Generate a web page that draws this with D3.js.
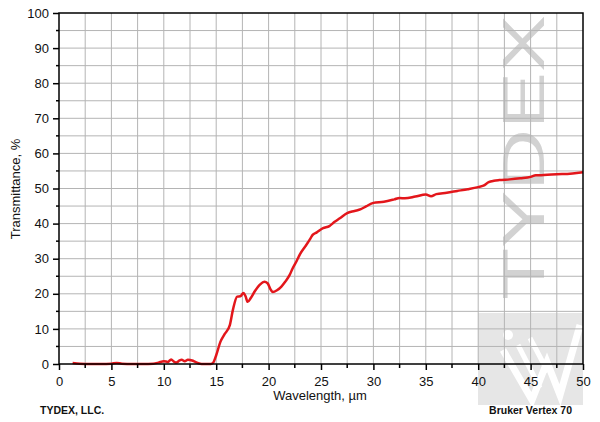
<!DOCTYPE html>
<html><head><meta charset="utf-8">
<script src="https://cdn.jsdelivr.net/npm/d3@7/dist/d3.min.js"></script>
<style>body{margin:0;background:#fff}svg{display:block;font-family:"Liberation Sans",Arial,sans-serif}</style>
</head><body><svg id="c" width="600" height="422"></svg>
<script>
const wavelength = [1.3,2,3,4,5,5.5,6,7,8,9,9.5,10,10.4,10.7,11,11.2,11.5,11.7,12,12.3,12.7,13,13.3,13.6,14,14.5,14.7,15,15.4,15.8,16.3,16.6,17,17.3,17.6,17.8,18,18.3,18.7,19.2,19.6,19.9,20.2,20.4,20.8,21.2,21.6,22,22.3,22.7,23,23.5,24,24.2,24.6,25.2,25.8,26.3,26.8,27.5,28.2,28.8,29.3,30,31,32,32.5,33,34,35,35.5,36,37,38,39,40,40.5,41,41.5,42,43,44,45,45.5,46,47,48,49,50];
const transmittance = [0.3,0.1,0,0,0.1,0.3,0.1,0,0,0.1,0.4,0.8,0.6,1.3,0.6,0.4,1.0,1.2,0.8,1.2,1.0,0.6,0.2,0,0,0,0.3,2.5,6.3,8.5,11.1,15.5,19.2,19.3,20.2,19.3,17.7,18.8,20.8,22.7,23.4,23.0,21.2,20.5,21.0,22.0,23.5,25.3,27.3,29.5,31.3,33.5,35.8,36.8,37.5,38.7,39.3,40.5,41.5,43.0,43.6,44.1,44.9,45.9,46.2,46.9,47.3,47.2,47.7,48.3,47.8,48.4,48.8,49.3,49.8,50.4,50.8,51.8,52.2,52.4,52.6,52.9,53.3,53.8,53.8,54.0,54.1,54.3,54.6];
const xTicks = [0,5,10,15,20,25,30,35,40,45,50];
const yTicks = [0,10,20,30,40,50,60,70,80,90,100];
const xMinor = d3.range(0,50.01,2.5);
const yMinor = d3.range(0,100.01,5);

const svg = d3.select("#c");
const L=59,R=583,T=13,B=364;
const x = d3.scaleLinear().domain([0,50]).range([L,R]);
const y = d3.scaleLinear().domain([0,100]).range([B,T]);

// watermark
const wm = svg.append("g");
wm.append("rect").attr("x",478).attr("y",313).attr("width",105).attr("height",92).attr("fill","#e6e6e6");
const wpath = d3.line();
wm.append("path").attr("d",wpath([[503,350],[532,400],[547,362],[560,395],[580,325]]))
  .attr("fill","none").attr("stroke","#fff").attr("stroke-width",7).attr("stroke-linejoin","miter");
wm.append("path").attr("d",wpath([[518,345],[540,388]])).attr("fill","none").attr("stroke","#fff").attr("stroke-width",5);
wm.append("path").attr("d",wpath([[530,338],[548,372]])).attr("fill","none").attr("stroke","#fff").attr("stroke-width",5);
wm.append("circle").attr("cx",508).attr("cy",335).attr("r",5).attr("fill","#fff");
wm.append("text").attr("transform","translate(544,300) rotate(-90)")
  .attr("font-size",60).attr("fill","#d2d2d2").attr("textLength",285).attr("lengthAdjust","spacingAndGlyphs")
  .text("TYDEX");

// grid
const g = svg.append("g");
g.selectAll(".vx").data(xMinor.filter(d=>d>0&&d<50)).join("line")
  .attr("x1",d=>x(d)).attr("x2",d=>x(d)).attr("y1",T).attr("y2",B)
  .attr("stroke","#b4b4b4").attr("stroke-width",1);
g.selectAll(".hy").data(yMinor.filter(d=>d>0&&d<100)).join("line")
  .attr("y1",d=>y(d)).attr("y2",d=>y(d)).attr("x1",L).attr("x2",R)
  .attr("stroke","#b4b4b4").attr("stroke-width",1);

// curve
svg.append("path").datum(wavelength.map((w,i)=>[w,transmittance[i]]))
  .attr("d",d3.line().x(d=>x(d[0])).y(d=>y(d[1])).curve(d3.curveMonotoneX))
  .attr("fill","none").attr("stroke","#e3161b").attr("stroke-width",2.5).attr("stroke-linejoin","round");

// frame
svg.append("rect").attr("x",L).attr("y",T).attr("width",R-L).attr("height",B-T)
  .attr("fill","none").attr("stroke","#000").attr("stroke-width",1.5);

// axes
const xAxis = d3.axisBottom(x).tickValues(xTicks).tickSize(6).tickPadding(7).tickFormat(d3.format("d"));
const ax = svg.append("g").attr("transform",`translate(0,${B})`).call(xAxis);
ax.select(".domain").remove();
ax.selectAll("line").attr("stroke-width",1.5);
ax.selectAll("text").attr("font-size",13).attr("fill","#111").attr("font-family","Liberation Sans, Arial");
svg.append("g").selectAll("line").data(xMinor.filter(d=>d%5!==0)).join("line")
  .attr("x1",d=>x(d)).attr("x2",d=>x(d)).attr("y1",B).attr("y2",B+4).attr("stroke","#000").attr("stroke-width",1.5);

const yAxis = d3.axisLeft(y).tickValues(yTicks).tickSize(6).tickPadding(4).tickFormat(d3.format("d"));
const ay = svg.append("g").attr("transform",`translate(${L},0)`).call(yAxis);
ay.select(".domain").remove();
ay.selectAll("line").attr("stroke-width",1.5);
ay.selectAll("text").attr("font-size",13).attr("fill","#111").attr("font-family","Liberation Sans, Arial");
svg.append("g").selectAll("line").data(yMinor.filter(d=>d%10!==0)).join("line")
  .attr("y1",d=>y(d)).attr("y2",d=>y(d)).attr("x1",L-3).attr("x2",L).attr("stroke","#000").attr("stroke-width",1.5);

// titles
svg.append("text").attr("x",320).attr("y",400).attr("text-anchor","middle").attr("font-size",13).attr("fill","#111").text("Wavelength, µm");
svg.append("text").attr("transform","translate(20,189) rotate(-90)").attr("text-anchor","middle").attr("font-size",13).attr("fill","#111").text("Transmittance, %");
svg.append("text").attr("x",40).attr("y",414).attr("font-size",10.5).attr("font-weight","bold").attr("fill","#111").text("TYDEX, LLC.");
svg.append("text").attr("x",572).attr("y",414).attr("text-anchor","end").attr("font-size",10.5).attr("font-weight","bold").attr("fill","#111").text("Bruker Vertex 70");
</script></body></html>
